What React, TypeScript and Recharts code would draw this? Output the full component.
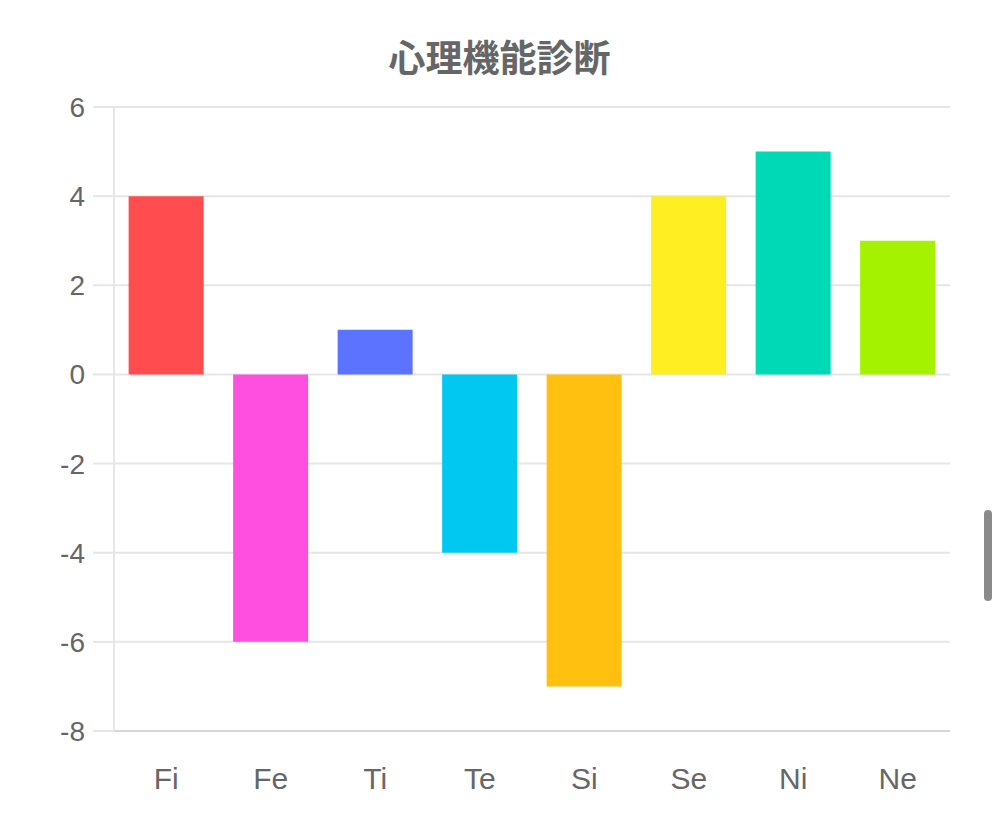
import React from "react";
import { BarChart, Bar, XAxis, YAxis, CartesianGrid, Cell } from "recharts";

const categories = ["Fi", "Fe", "Ti", "Te", "Si", "Se", "Ni", "Ne"];
const scores = [4, -6, 1, -4, -7, 4, 5, 3];
const barColors = ["#FF4D4F", "#FF4FE0", "#5B73FF", "#00C8F0", "#FFC010", "#FFEE22", "#00D9B6", "#A4F200"];
const yTicks = [-8, -6, -4, -2, 0, 2, 4, 6];
const title = "心理機能診断";

const data = categories.map((name, i) => ({ name, value: scores[i] }));

export default function App() {
  return (
    <div style={{ position: "absolute", left: 0, top: 0, width: 999, height: 834, background: "#fff" }}>
      <div
        style={{
          position: "absolute",
          left: 0,
          top: 32,
          width: 999,
          textAlign: "center",
          fontFamily: '"Noto Sans CJK JP", sans-serif',
          fontWeight: 700,
          fontSize: 37,
          lineHeight: "48px",
          color: "#666",
        }}
      >
        {title}
      </div>
      <div style={{ position: "absolute", left: 0, top: 0 }}>
        <BarChart
          width={999}
          height={834}
          data={data}
          margin={{ top: 107, right: 49, bottom: 0, left: 0 }}
          barCategoryGap="14%"
        >
          <CartesianGrid vertical={false} stroke="#e6e6e6" strokeWidth={2} />
          <XAxis
            dataKey="name"
            axisLine={{ stroke: "#d6d6d6", strokeWidth: 2 }}
            tickLine={false}
            tickSize={6}
            tickMargin={31}
            height={103}
            tick={{ fill: "#666", fontSize: 30, fontFamily: '"Liberation Sans", Arial, sans-serif' }}
            interval={0}
          />
          <YAxis
            domain={[-8, 6]}
            ticks={yTicks}
            width={114}
            axisLine={{ stroke: "#e6e6e6", strokeWidth: 2 }}
            tickLine={{ stroke: "#e6e6e6", strokeWidth: 2 }}
            tickSize={21}
            tickMargin={8}
            tick={{ fill: "#666", fontSize: 28, fontFamily: '"Liberation Sans", Arial, sans-serif' }}
            interval={0}
          />
          <Bar dataKey="value" isAnimationActive={false}>
            {data.map((d, i) => (
              <Cell key={d.name} fill={barColors[i]} />
            ))}
          </Bar>
        </BarChart>
      </div>
      <div
        style={{
          position: "absolute",
          left: 984,
          top: 510,
          width: 8,
          height: 91,
          borderRadius: 4,
          background: "#8a8a8a",
        }}
      />
    </div>
  );
}
